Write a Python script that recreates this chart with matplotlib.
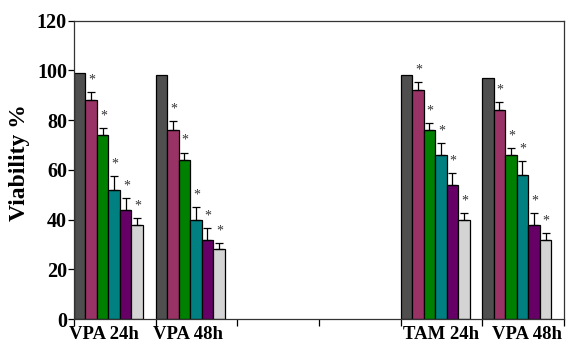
import numpy as np
import matplotlib.pyplot as plt

# groups along the x axis (two empty slots between the VPA and TAM/VPA pairs)
slots = ["VPA 24h", "VPA 48h", "", "", "TAM 24h", "VPA 48h"]
group_slot = [0, 1, 4, 5]
group_labels = ["VPA 24h", "VPA 48h", "TAM 24h", "VPA 48h"]

# viability % per group, six treatment levels each
viability = [
    [99, 88, 74, 52, 44, 38],
    [98, 76, 64, 40, 32, 28],
    [98, 92, 76, 66, 54, 40],
    [97, 84, 66, 58, 38, 32],
]
errors = [
    [0, 3.3, 3.0, 5.5, 4.7, 2.8],
    [0, 3.5, 3.0, 5.0, 4.5, 2.7],
    [0, 3.5, 3.0, 5.0, 4.6, 2.7],
    [0, 3.4, 3.0, 5.4, 4.8, 2.7],
]
significant = [
    [False, True, True, True, True, True],
    [False, True, True, True, True, True],
    [False, True, True, True, True, True],
    [False, True, True, True, True, True],
]

colors = ["#4f4f4f", "#993366", "#008000", "#008080", "#660066", "#d4d4d4"]
label_shift = [-0.06, -0.02, 0.07, 0.13]

plt.rcParams["font.family"] = ["Liberation Serif", "DejaVu Serif"]

fig = plt.figure(figsize=(5.73, 3.45), dpi=100)
ax = fig.add_axes([0.129, 0.075, 0.855, 0.865])

w = 0.141
for g, slot in enumerate(group_slot):
    vals = np.array(viability[g], dtype=float)
    errs = np.array(errors[g], dtype=float)
    x = slot + np.arange(len(vals)) * w
    ax.bar(x, vals, w, align="edge", color=colors, edgecolor="black",
           linewidth=0.9, zorder=2)
    has_err = errs > 0
    ax.errorbar(x[has_err] + w / 2, vals[has_err],
                yerr=[np.zeros(has_err.sum()), errs[has_err]],
                fmt="none", ecolor="black", elinewidth=0.9, capsize=3,
                capthick=0.9, zorder=3)
    for j in range(len(vals)):
        if significant[g][j]:
            ax.text(x[j] + w / 2 + 0.01, vals[j] + errs[j] + 2.2, "*",
                    ha="center", va="bottom", fontsize=10, color="#333333")

ax.set_xlim(0, len(slots))
ax.set_ylim(0, 120)
ax.set_yticks(np.arange(0, 121, 20))
ax.tick_params(axis="y", direction="out", length=4, width=0.9, labelsize=14.5,
               pad=1)
for lab in ax.get_yticklabels():
    lab.set_fontweight("bold")

ax.set_xticks(np.arange(0, len(slots) + 1))
ax.set_xticklabels([])
ax.tick_params(axis="x", direction="out", length=5, width=0.9)

for g, slot in enumerate(group_slot):
    ax.text(slot + 3 * w + label_shift[g], -2.6, group_labels[g],
            ha="center", va="top", fontsize=13.5, fontweight="bold")

ax.set_ylabel("Viability %", fontsize=17, fontweight="bold")
ax.yaxis.set_label_coords(-0.09, 0.525)

for sp in ax.spines.values():
    sp.set_linewidth(0.9)
    sp.set_color("#333333")

fig.savefig("out.png", dpi=100)
